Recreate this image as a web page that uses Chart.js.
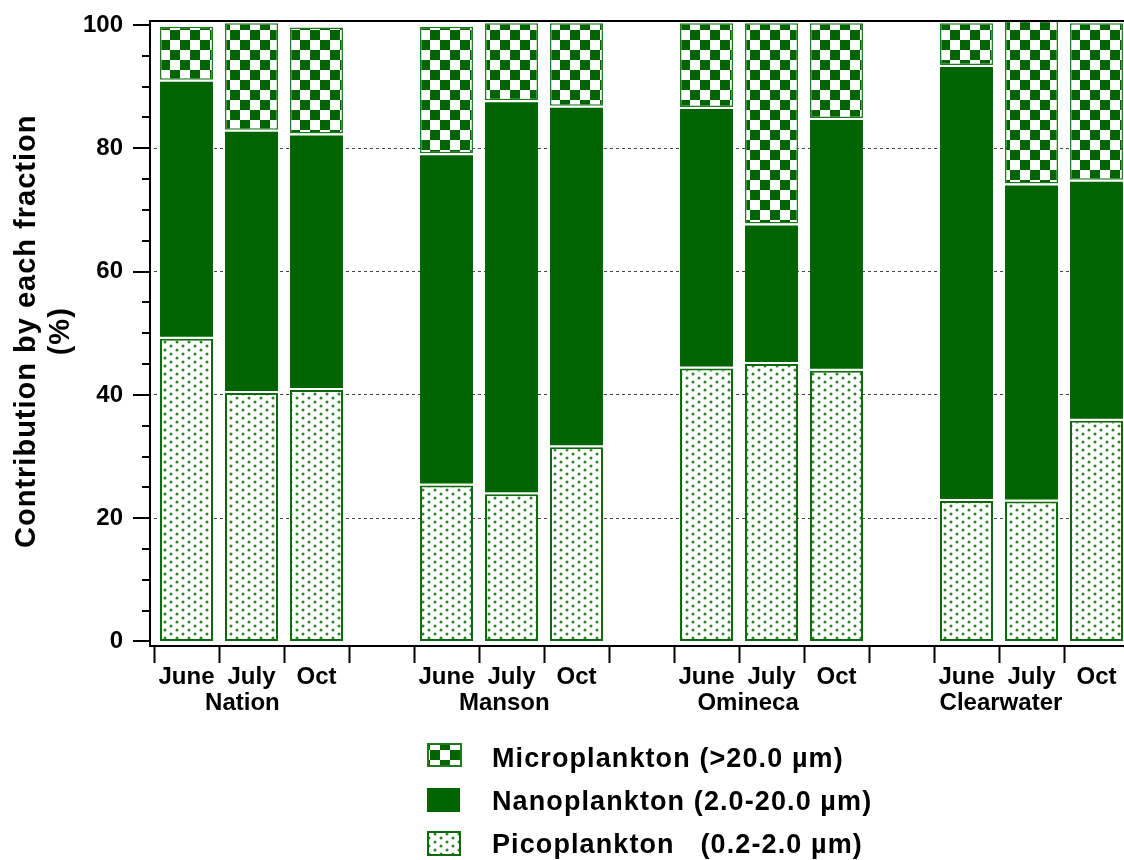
<!DOCTYPE html>
<html>
<head>
<meta charset="utf-8">
<script src="https://cdn.jsdelivr.net/npm/chart.js@4"></script>
<style>
  html, body { margin: 0; padding: 0; background: #fff; overflow: hidden; }
  #wrap { width: 1140px; height: 860px; }
</style>
</head>
<body>
<div id="wrap"><canvas id="fractionChart" width="1140" height="860"></canvas></div>
<script>
// months per river, with an empty slot between rivers
const months = ['June', 'July', 'Oct', '', 'June', 'July', 'Oct', '', 'June', 'July', 'Oct', '', 'June', 'July', 'Oct'];
const rivers = ['Nation', 'Manson', 'Omineca', 'Clearwater'];
// where each river name sits, in category index units
const riverLabelAt = [0.86, 4.89, 8.64, 12.53];

// percent contribution of each size fraction
const pico  = [49.1, 40.3, 40.8, null, 25.3, 23.9, 31.5, null, 44.3, 45.0, 43.9, null, 22.8, 22.7, 35.8];
const nano  = [42.0, 42.7, 41.6, null, 53.9, 63.9, 55.4, null, 42.4, 22.8, 41.0, null, 70.7, 51.6, 39.1];
const micro = [ 8.6, 17.3, 17.2, null, 20.5, 12.5, 13.4, null, 13.6, 32.5, 15.4, null,  6.8, 26.4, 25.4];

const yTicks = [0, 20, 40, 60, 80, 100];
const yTitle = ['Contribution by each fraction', '(%)'];

const GREEN = '#006400';
const FONT = "'Liberation Sans', Arial, Helvetica, sans-serif";

function makePattern(kind) {
  const c = document.createElement('canvas');
  const g = c.getContext('2d');
  if (kind === 'checker') {
    c.width = 20; c.height = 20;
    g.fillStyle = '#fff'; g.fillRect(0, 0, 20, 20);
    g.fillStyle = GREEN;
    g.fillRect(0, 0, 10, 10);
    g.fillRect(10, 10, 10, 10);
  } else {
    c.width = 12; c.height = 8;
    g.fillStyle = '#fff'; g.fillRect(0, 0, 12, 8);
    g.fillStyle = '#2a842a';
    [[3, 2], [9, 6]].forEach(([px, py]) => {
      g.beginPath(); g.arc(px, py, 1.5, 0, Math.PI * 2); g.fill();
    });
  }
  return g.createPattern(c, 'repeat');
}

const axisDecor = {
  id: 'axisDecor',
  afterDatasetsDraw(chart) {
    const { ctx, chartArea: a, scales: { x, y } } = chart;
    const axisX = a.left - 4;
    ctx.save();
    ctx.strokeStyle = '#000';
    ctx.lineWidth = 2;
    ctx.beginPath();
    // y axis, x axis and top frame line
    ctx.moveTo(axisX, a.top); ctx.lineTo(axisX, a.bottom + 2);
    ctx.moveTo(axisX - 1, a.bottom + 1); ctx.lineTo(chart.width, a.bottom + 1);
    ctx.moveTo(axisX - 1, a.top + 1); ctx.lineTo(chart.width, a.top + 1);
    // major and minor ticks on the y axis
    for (let v = 0; v <= 100; v += 5) {
      const py = Math.round(y.getPixelForValue(v));
      const len = v % 20 === 0 ? 17 : 8;
      ctx.moveTo(axisX - len, py); ctx.lineTo(axisX, py);
    }
    ctx.stroke();

    ctx.fillStyle = '#000';
    ctx.textAlign = 'center';

    // rotated y axis title, two lines
    ctx.save();
    ctx.translate(0, y.getPixelForValue(50) - 2);
    ctx.rotate(-Math.PI / 2);
    ctx.font = 'bold 29px ' + FONT;
    ctx.letterSpacing = '1px';
    ctx.textBaseline = 'middle';
    ctx.fillText(yTitle[0], 0, 27);
    ctx.fillText(yTitle[1], 0, 61);
    ctx.restore();

    // river names under the month labels
    ctx.font = 'bold 24px ' + FONT;
    ctx.textBaseline = 'alphabetic';
    rivers.forEach((name, i) => {
      ctx.fillText(name, x.getPixelForValue(riverLabelAt[i]), 710);
    });

    // legend, one fraction per row
    const rows = [
      { ds: 2, box: [427, 743, 35, 24], base: 767 },
      { ds: 1, box: [427, 788, 33, 24], base: 810 },
      { ds: 0, box: [427, 831, 34, 25], base: 853 }
    ];
    ctx.textAlign = 'left';
    ctx.font = 'bold 27px ' + FONT;
    ctx.letterSpacing = '1.1px';
    rows.forEach(r => {
      const d = chart.data.datasets[r.ds];
      const [bx, by, bw, bh] = r.box;
      ctx.fillStyle = d.backgroundColor;
      ctx.fillRect(bx, by, bw, bh);
      if (r.ds !== 1) {
        ctx.strokeStyle = d.borderColor;
        ctx.lineWidth = 2;
        ctx.strokeRect(bx + 1, by + 1, bw - 2, bh - 2);
      }
      ctx.fillStyle = '#000';
      ctx.fillText(d.label, 492, r.base);
    });
    ctx.restore();
  }
};

const ctx = document.getElementById('fractionChart').getContext('2d');

new Chart(ctx, {
  type: 'bar',
  data: {
    labels: months,
    datasets: [{
      label: 'Picoplankton   (0.2-2.0 µm)',
      data: pico,
      backgroundColor: makePattern('dots'),
      borderColor: '#0b6b0b',
      borderWidth: 2,
      borderSkipped: false
    }, {
      label: 'Nanoplankton (2.0-20.0 µm)',
      data: nano,
      backgroundColor: GREEN,
      borderColor: '#fff',
      borderWidth: { top: 2, bottom: 2, left: 0, right: 0 },
      borderSkipped: false
    }, {
      label: 'Microplankton (>20.0 µm)',
      data: micro,
      backgroundColor: makePattern('checker'),
      borderColor: '#1f7a1f',
      borderWidth: 1.5,
      borderSkipped: false
    }]
  },
  options: {
    responsive: false,
    animation: false,
    barPercentage: 0.815,
    categoryPercentage: 1,
    layout: { padding: { top: 20, right: 11, left: 0, bottom: 0 } },
    plugins: {
      legend: { display: false },
      tooltip: { enabled: false }
    },
    scales: {
      x: {
        stacked: true,
        afterFit: s => { s.height = 215; s.paddingLeft = 0; s.paddingRight = 0; },
        border: { display: false },
        grid: {
          offset: true,
          drawOnChartArea: false,
          drawTicks: true,
          tickLength: 18,
          tickWidth: 2,
          tickColor: '#000'
        },
        ticks: {
          color: '#000',
          padding: 0,
          autoSkip: false,
          maxRotation: 0,
          font: { family: FONT, size: 24, weight: 'bold' }
        }
      },
      y: {
        stacked: true,
        min: -0.57,
        max: 100.81,
        afterFit: s => { s.width = 154; s.paddingTop = 0; s.paddingBottom = 0; },
        afterBuildTicks: s => { s.ticks = yTicks.map(v => ({ value: v })); },
        border: { display: false, dash: [3, 3] },
        grid: {
          drawTicks: false,
          lineWidth: 1,
          color: c => (c.tick && c.tick.value > 0 && c.tick.value < 100) ? '#444' : 'rgba(0,0,0,0)'
        },
        ticks: {
          color: '#000',
          padding: 31,
          font: { family: FONT, size: 24, weight: 'bold' }
        }
      }
    }
  },
  plugins: [axisDecor]
});
</script>
</body>
</html>
